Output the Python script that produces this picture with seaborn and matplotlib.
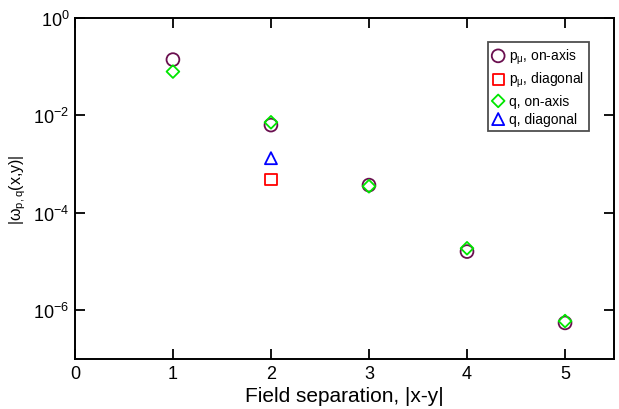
import numpy as np
import pandas as pd
import seaborn as sns
import matplotlib
matplotlib.use('Agg')
import matplotlib.pyplot as plt
from matplotlib.ticker import FixedLocator, LogFormatterSciNotation, NullLocator

# Donnees
sep_p_axis = [1, 2, 3, 4, 5]
p_axis = [0.139, 6.3e-3, 3.7e-4, 1.6e-5, 5.5e-7]
sep_p_diag = [2]
p_diag = [4.9e-4]
sep_q_axis = [1, 2, 3, 4, 5]
q_axis = [0.079, 7.2e-3, 3.5e-4, 1.87e-5, 6.0e-7]
sep_q_diag = [2]
q_diag = [1.32e-3]

sns.set_style('ticks')
plt.rcParams['font.family'] = ['Liberation Sans', 'DejaVu Sans']
plt.rcParams['mathtext.fontset'] = 'custom'
plt.rcParams['mathtext.rm'] = 'Liberation Sans'
plt.rcParams['mathtext.it'] = 'Liberation Sans'
plt.rcParams['mathtext.default'] = 'regular'
for k in ['text.color', 'axes.labelcolor', 'xtick.color', 'ytick.color', 'axes.edgecolor']:
    plt.rcParams[k] = 'black'

fig = plt.figure(figsize=(6.19, 4.10), dpi=100)
ax = fig.add_axes([0.121, 0.122, 0.871, 0.832])

series = [
    (sep_p_axis, p_axis, 'o', '#6a0f4f', r'p$_\mu$, on-axis', 85),
    (sep_p_diag, p_diag, 's', '#ff0000', r'p$_\mu$, diagonal', 65),
    (sep_q_axis, q_axis, 'D', '#00e600', 'q, on-axis', 42),
    (sep_q_diag, q_diag, '^', '#0000ff', 'q, diagonal', 75),
]
for xs, ys, m, c, lab, s in series:
    df = pd.DataFrame({'sep': xs, 'omega': ys})
    sns.scatterplot(data=df, x='sep', y='omega', marker=m, s=s, fc='none',
                    ec=c, linewidth=1.3, label=lab, ax=ax)

ax.set_yscale('log')
ax.set_xlim(0, 5.5)
ax.set_ylim(1e-7, 1)
ax.set_xticks([0, 1, 2, 3, 4, 5])
ax.yaxis.set_major_locator(FixedLocator([1, 1e-2, 1e-4, 1e-6]))
ax.yaxis.set_major_formatter(LogFormatterSciNotation())
ax.yaxis.set_minor_locator(NullLocator())
ax.tick_params(direction='in', length=7, width=1.3, labelsize=13,
               top=True, right=True, pad=4)
for sp in ax.spines.values():
    sp.set_linewidth(1.4)

ax.set_xlabel('Field separation, |x-y|', fontsize=15, labelpad=3)
ax.set_ylabel(r'|$\omega_{p,q}$(x,y)|', fontsize=11.5, labelpad=4)

leg = ax.legend(loc='upper right', bbox_to_anchor=(0.954, 0.930), fontsize=10,
                frameon=True, fancybox=False, edgecolor='#222222',
                borderaxespad=0, handletextpad=0.45, borderpad=0.35,
                labelspacing=0.3, handlelength=0.7)
leg.get_frame().set_linewidth(1.3)

fig.savefig('out.png', dpi=100)
